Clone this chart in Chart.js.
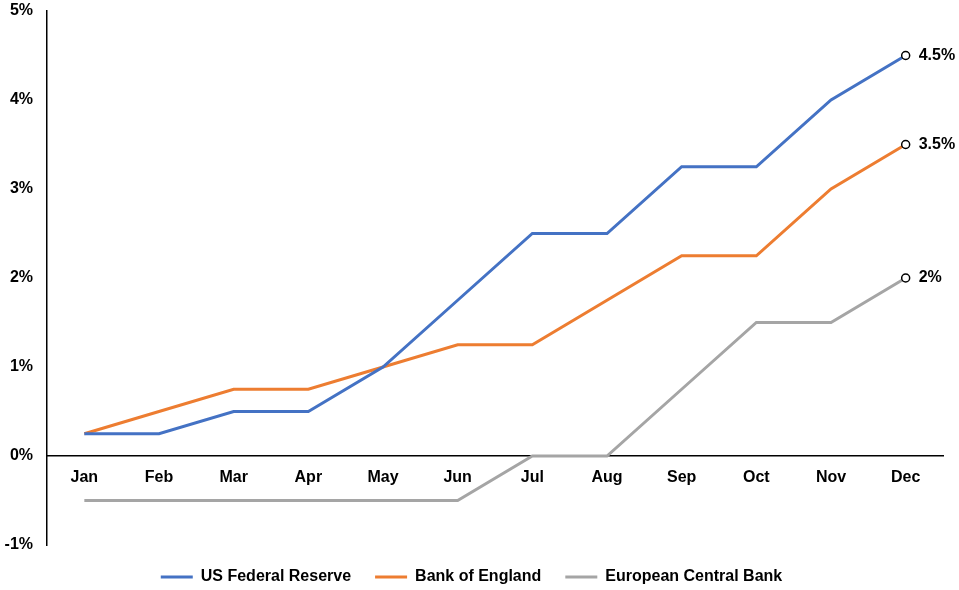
<!DOCTYPE html>
<html>
<head>
<meta charset="utf-8">
<script src="https://cdn.jsdelivr.net/npm/chart.js@4"></script>
<style>
  html, body { margin: 0; padding: 0; background: #fff; }
  #wrap { width: 959px; height: 590px; }
</style>
</head>
<body>
<div id="wrap"><canvas id="rateChart"></canvas></div>
<script>
const months = ['Jan', 'Feb', 'Mar', 'Apr', 'May', 'Jun', 'Jul', 'Aug', 'Sep', 'Oct', 'Nov', 'Dec'];
const fedRates = [0.25, 0.25, 0.5, 0.5, 1.0, 1.75, 2.5, 2.5, 3.25, 3.25, 4.0, 4.5];
const boeRates = [0.25, 0.5, 0.75, 0.75, 1.0, 1.25, 1.25, 1.75, 2.25, 2.25, 3.0, 3.5];
const ecbRates = [-0.5, -0.5, -0.5, -0.5, -0.5, -0.5, 0, 0, 0.75, 1.5, 1.5, 2.0];
const yTicks = [-1, 0, 1, 2, 3, 4, 5];

const FONT = 'Liberation Sans, Arial, sans-serif';

// only the last point gets a marker
const lastOnly = arr => arr.map((v, i) => (i === arr.length - 1 ? 4 : 0));

function series(label, data, color) {
    return {
        label: label,
        data: data,
        borderColor: color,
        backgroundColor: color,
        borderWidth: 3,
        tension: 0,
        pointRadius: lastOnly(data),
        pointHoverRadius: lastOnly(data),
        pointBackgroundColor: '#ffffff',
        pointBorderColor: '#000000',
        pointBorderWidth: 1.5,
        pointStyle: 'circle'
    };
}

// value labels next to the December points
const endLabels = {
    id: 'endLabels',
    afterDatasetsDraw(chart) {
        const ctx = chart.ctx;
        ctx.save();
        ctx.font = 'bold 16px ' + FONT;
        ctx.fillStyle = '#000';
        ctx.textAlign = 'left';
        ctx.textBaseline = 'middle';
        chart.data.datasets.forEach((ds, i) => {
            const meta = chart.getDatasetMeta(i);
            const last = meta.data[meta.data.length - 1];
            const v = ds.data[ds.data.length - 1];
            ctx.fillText(v + '%', last.x + 13, last.y);
        });
        ctx.restore();
    }
};

new Chart(document.getElementById('rateChart'), {
    type: 'line',
    data: {
        labels: months,
        datasets: [
            series('US Federal Reserve', fedRates, '#4472C4'),
            series('Bank of England', boeRates, '#ED7D31'),
            series('European Central Bank', ecbRates, '#A5A5A5')
        ]
    },
    options: {
        responsive: true,
        maintainAspectRatio: false,
        animation: false,
        layout: { padding: { top: 11, right: 16, left: 0, bottom: -5 } },
        plugins: {
            legend: {
                position: 'bottom',
                labels: {
                    usePointStyle: true,
                    pointStyle: 'line',
                    pointStyleWidth: 32,
                    boxHeight: 16,
                    padding: 24,
                    color: '#000',
                    font: { family: FONT, size: 16, weight: 'bold' },
                    // keep the series colour on the legend lines
                    generateLabels: chart => {
                        const items = Chart.defaults.plugins.legend.labels.generateLabels(chart);
                        return items.map(it => {
                            const ds = chart.data.datasets[it.datasetIndex];
                            it.strokeStyle = ds.borderColor;
                            it.lineWidth = 3;
                            return it;
                        });
                    }
                }
            },
            tooltip: { enabled: false }
        },
        scales: {
            x: {
                type: 'category',
                offset: true,
                position: { y: 0 },
                afterFit: scale => { scale.paddingTop = 0; scale.paddingBottom = 0; },
                grid: { display: false, drawTicks: false },
                border: { display: true, color: '#000', width: 1.5 },
                ticks: {
                    padding: 12,
                    color: '#000',
                    maxRotation: 0,
                    font: { family: FONT, size: 16, weight: 'bold' }
                }
            },
            y: {
                min: -1,
                max: 5,
                afterBuildTicks: scale => { scale.ticks = yTicks.map(v => ({ value: v })); },
                afterFit: scale => { scale.width = 47; scale.paddingTop = 0; scale.paddingBottom = 0; },
                grid: { display: false, drawTicks: false },
                border: { display: true, color: '#000', width: 1.5 },
                ticks: {
                    padding: 14,
                    color: '#000',
                    font: { family: FONT, size: 16, weight: 'bold' },
                    callback: v => v + '%'
                }
            }
        }
    },
    plugins: [endLabels]
});
</script>
</body>
</html>
